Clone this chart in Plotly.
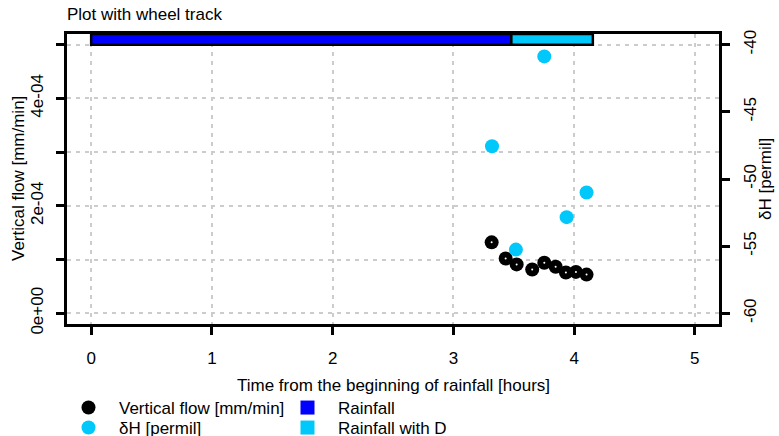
import plotly.graph_objects as go

# --- data ---
flow_time = [3.317, 3.433, 3.524, 3.653, 3.753, 3.847, 3.932, 4.015, 4.103]
flow_vals = [1.32e-4, 1.02e-4, 0.91e-4, 0.815e-4, 0.94e-4, 0.865e-4, 0.76e-4, 0.77e-4, 0.72e-4]

dh_time = [3.320, 3.518, 3.753, 3.938, 4.103]
dh_vals = [-47.56, -55.26, -40.87, -52.84, -51.01]

rain_names = ["Rainfall", "Rainfall with D"]
rain_start = [0.0, 3.48]
rain_end = [3.48, 4.155]
rain_colors = ["#0000FF", "#00C8FA"]

x_ticks = [0, 1, 2, 3, 4, 5]
y1_ticks = [0, 1e-4, 2e-4, 3e-4, 4e-4, 5e-4]
y1_labels = ["0e+00", "", "2e-04", "", "4e-04", ""]
y2_ticks = [-60, -55, -50, -45, -40]
y2_labels = ["-60", "-55", "-50", "-45", "-40"]

FONT = "Liberation Sans, Arial, Helvetica, sans-serif"
FS = 17
CYAN = "#00C8FA"

fig = go.Figure()

# rainfall bars (horizontal, at top of plot)
fig.add_trace(go.Bar(
    y=[5.1e-4] * len(rain_start),
    x=[e - s for s, e in zip(rain_start, rain_end)],
    base=rain_start,
    width=2e-5,
    orientation="h",
    marker=dict(color=rain_colors, line=dict(color="black", width=2.5)),
    showlegend=False, hoverinfo="skip",
))

fig.add_trace(go.Scatter(
    x=flow_time, y=flow_vals, mode="markers", name="Vertical flow [mm/min]",
    marker=dict(color="black", size=14), legend="legend",
))
fig.add_trace(go.Scatter(
    x=flow_time, y=flow_vals, mode="markers", showlegend=False, hoverinfo="skip",
    marker=dict(color="white", size=2),
))
fig.add_trace(go.Scatter(
    x=dh_time, y=dh_vals, mode="markers", name="\u03b4H [permil]", yaxis="y2",
    marker=dict(color=CYAN, size=14), legend="legend2",
))

# legend-only entries for rainfall
for n, c, lg in zip(rain_names, rain_colors, ["legend3", "legend4"]):
    fig.add_trace(go.Scatter(
        x=[None], y=[None], mode="markers", name=n, legend=lg,
        marker=dict(color=c, size=14, symbol="square"),
    ))

axis_common = dict(
    showline=True, linecolor="black", linewidth=2.5,
    ticks="outside", ticklen=8, tickwidth=2.5, tickcolor="black",
    tickfont=dict(family=FONT, size=FS, color="black"),
    zeroline=False,
)


def leg(xpx, ypx):
    return dict(x=xpx / 779, y=1 - ypx / 436, xanchor="left", yanchor="middle",
                xref="container", yref="container",
                font=dict(family=FONT, size=FS, color="black"),
                bgcolor="rgba(0,0,0,0)", itemwidth=51)


fig.update_layout(
    width=779, height=436,
    margin=dict(l=67, r=60, t=34, b=112, autoexpand=False),
    paper_bgcolor="white", plot_bgcolor="white",
    font=dict(family=FONT, size=FS, color="black"),
    title=dict(text="Plot with wheel track", x=67 / 779, xanchor="left",
               xref="container", y=1 - 14 / 436, yanchor="middle",
               font=dict(family=FONT, size=FS, color="black")),
    xaxis=dict(range=[-0.2, 5.2], tickvals=x_ticks, mirror=True,
               showgrid=True, gridcolor="#CCCCCC", gridwidth=2, griddash="4px,5px",
               ticklabelstandoff=9, **axis_common),
    yaxis=dict(range=[-2e-5, 5.2e-4], tickvals=y1_ticks, ticktext=y1_labels,
               tickangle=-90, showgrid=True, gridcolor="#CCCCCC", gridwidth=2,
               griddash="4px,5px", ticklabelstandoff=6, **axis_common),
    yaxis2=dict(range=[-60.8, -39.2], tickvals=y2_ticks, ticktext=y2_labels,
                overlaying="y", side="right", tickangle=-90, showgrid=False,
                ticklabelstandoff=6, **axis_common),
    barmode="overlay",
    legend=leg(58, 408),
    legend2=leg(58, 428),
    legend3=leg(277, 408),
    legend4=leg(277, 428),
    annotations=[
        dict(text="Time from the beginning of rainfall [hours]", xref="paper", yref="paper",
             x=0.5, y=-(385 - 324) / 290, xanchor="center", yanchor="middle",
             showarrow=False, font=dict(family=FONT, size=FS, color="black")),
        dict(text="Vertical flow [mm/min]", xref="paper", yref="paper",
             x=-(67 - 18) / 652, y=0.5, xanchor="center", yanchor="middle",
             textangle=-90, showarrow=False, font=dict(family=FONT, size=FS, color="black")),
        dict(text="\u03b4H [permil]", xref="paper", yref="paper",
             x=1 + (765 - 719) / 652, y=0.5, xanchor="center", yanchor="middle",
             textangle=-90, showarrow=False, font=dict(family=FONT, size=FS, color="black")),
    ],
)

fig.write_html("out.html")
